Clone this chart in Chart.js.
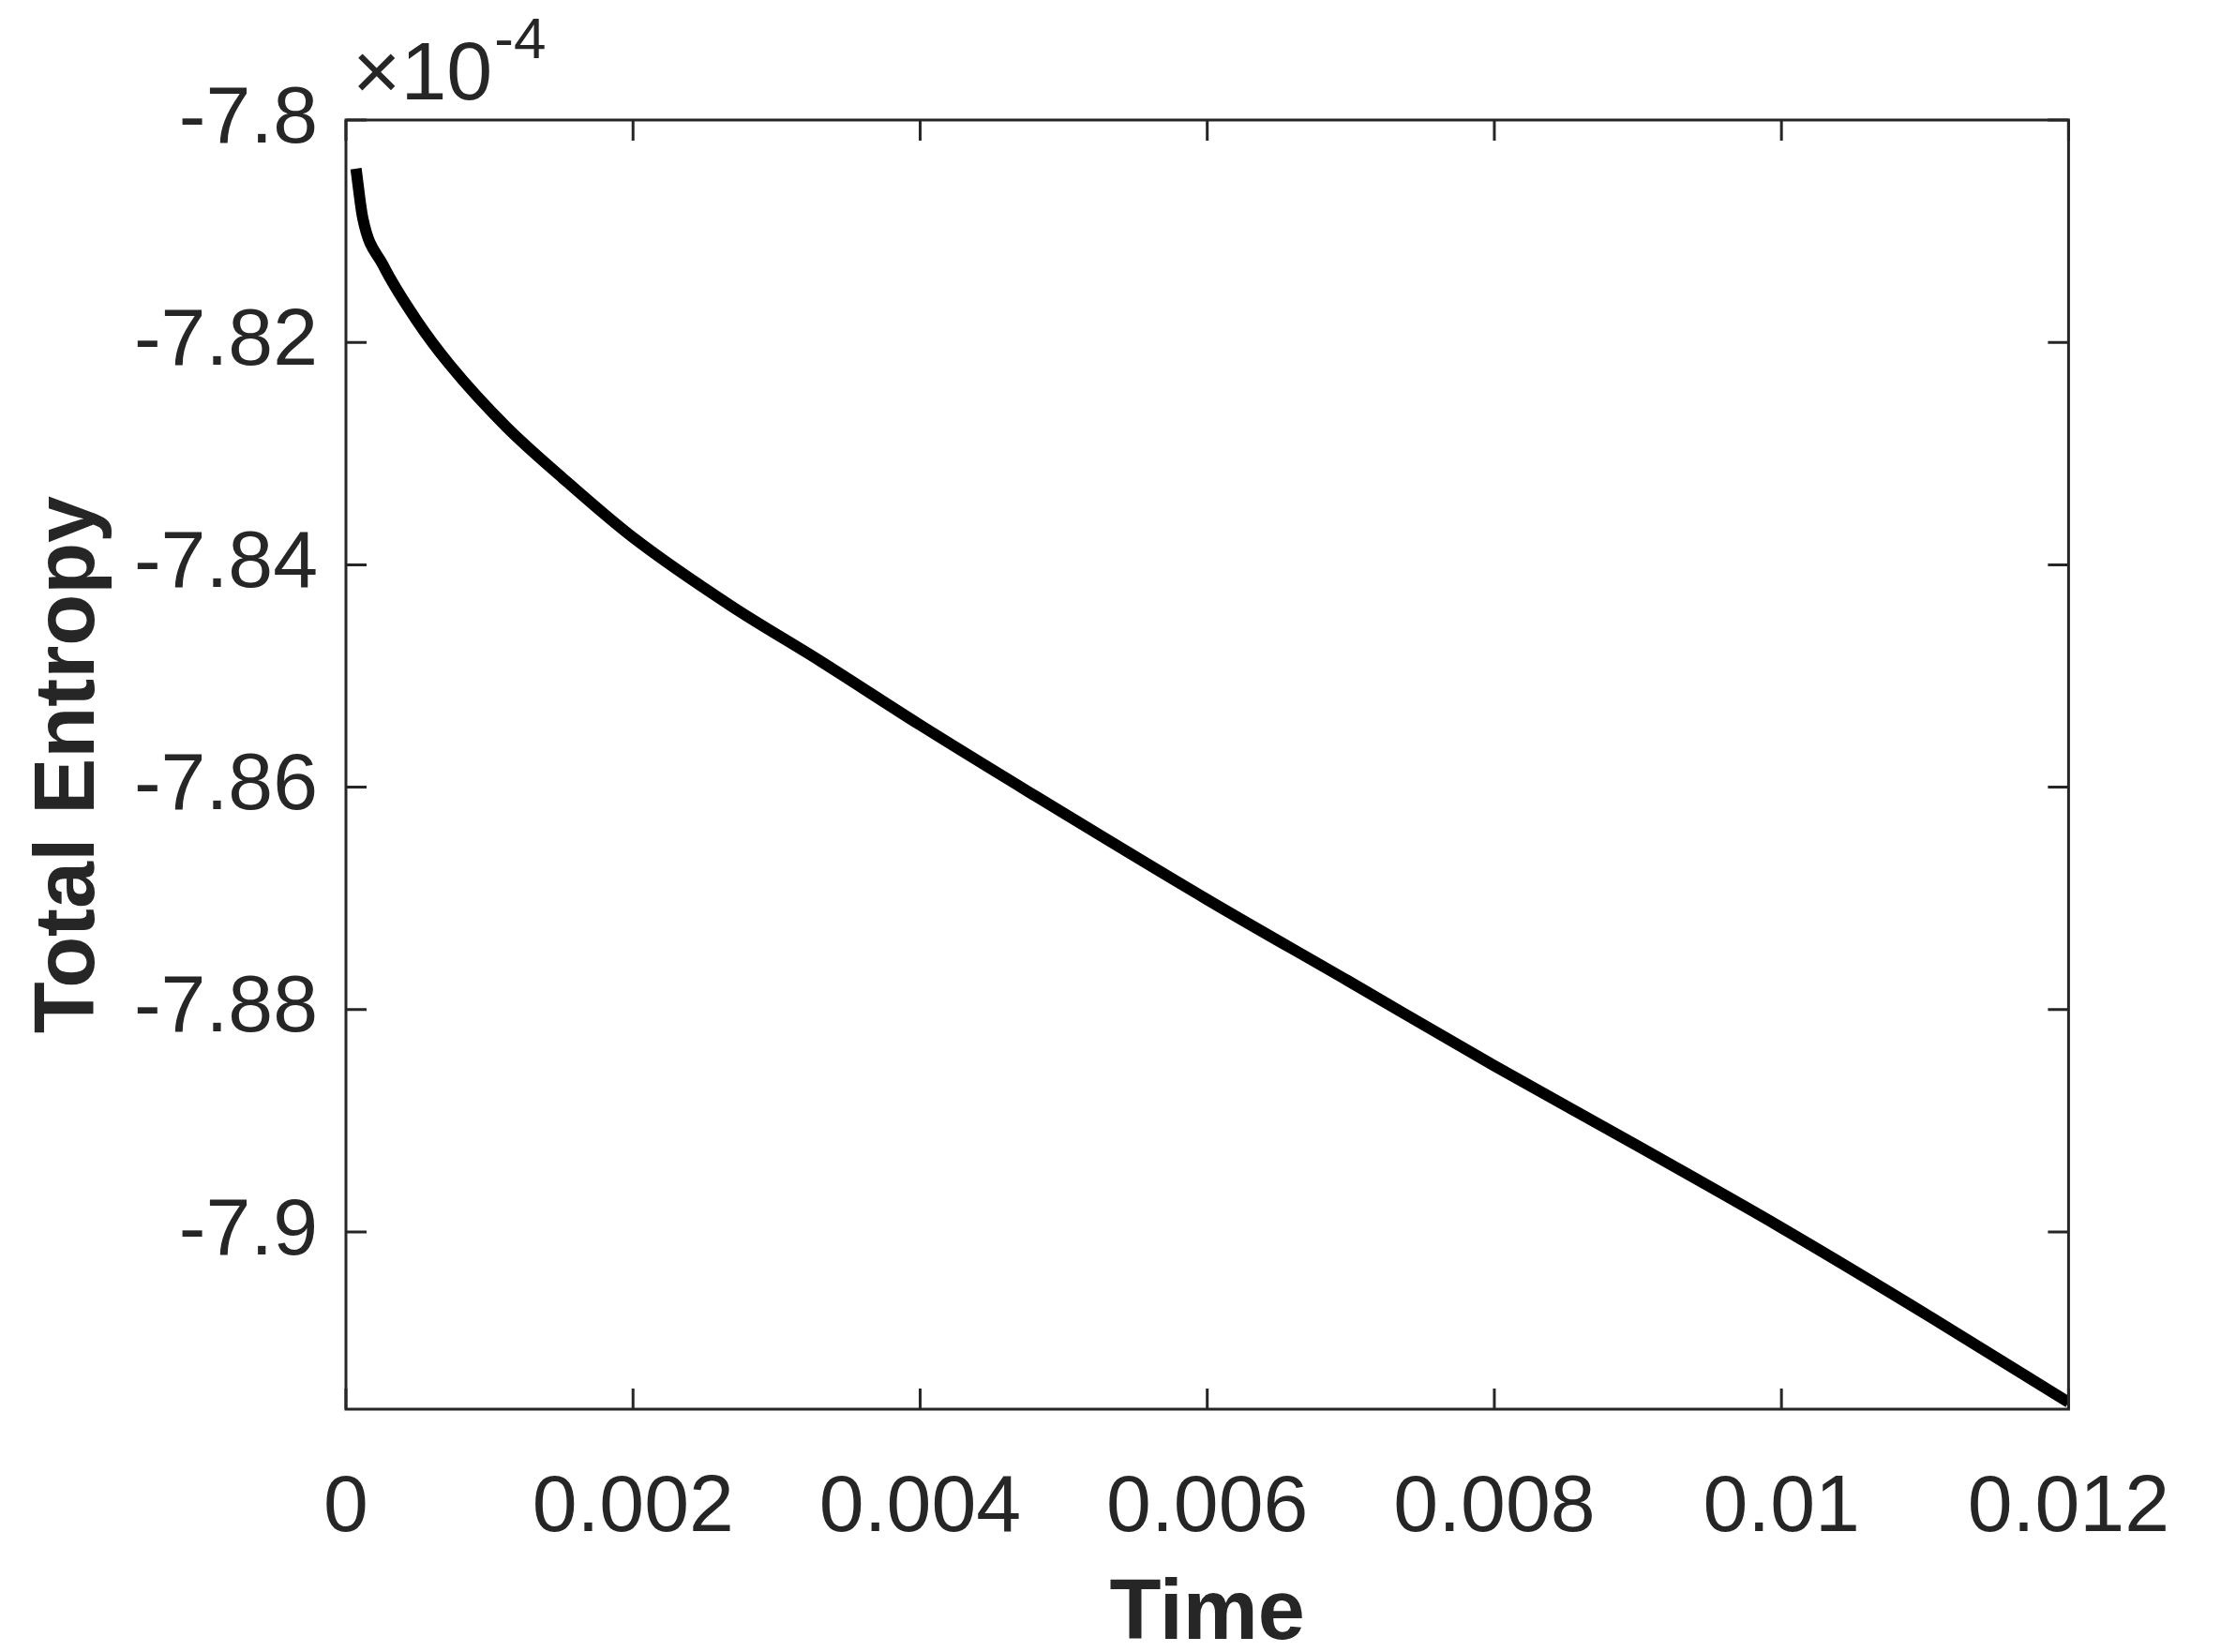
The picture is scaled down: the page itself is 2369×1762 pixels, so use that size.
<!DOCTYPE html>
<html><head><meta charset="utf-8">
<script src="https://cdn.jsdelivr.net/npm/chart.js@4/dist/chart.umd.min.js"></script>
<style>html,body{margin:0;padding:0;background:#fff}#w{width:2369px;height:1762px}</style>
</head><body><div id="w"><canvas id="c"></canvas></div>
<script>
const timeValues = [0.00007,0.000117,0.000258,0.000492,0.000727,0.001117,0.001508,0.002,0.00268,0.003305,0.004,0.00479,0.006,0.006977,0.008,0.009008,0.01,0.01104,0.012];
const entropyValues = [-7.80437,-7.80881,-7.81303,-7.81801,-7.82207,-7.82759,-7.83218,-7.83755,-7.84368,-7.84866,-7.85441,-7.86069,-7.87011,-7.87739,-7.88506,-7.89234,-7.89962,-7.90766,-7.91533];
const xTicks = [0,0.002,0.004,0.006,0.008,0.01,0.012];
const yTicks = [-7.9,-7.88,-7.86,-7.84,-7.82,-7.8];
const xTitle = 'Time', yTitle = 'Total Entropy', exponentLabel = '-4';

const FONT = '"Liberation Sans", Arial, sans-serif';
const TXT = '#262626';
const frame = {
  id:'frame',
  afterDraw(ch){
    const c=ch.ctx, a=ch.chartArea, xs=ch.scales.x, ys=ch.scales.y;
    c.save();
    c.strokeStyle=TXT; c.lineWidth=3;
    c.strokeRect(a.left,a.top,a.right-a.left,a.bottom-a.top);
    const L=22;
    c.beginPath();
    xTicks.forEach(v=>{const p=xs.getPixelForValue(v);
      c.moveTo(p,a.bottom);c.lineTo(p,a.bottom-L);c.moveTo(p,a.top);c.lineTo(p,a.top+L);});
    yTicks.forEach(v=>{const p=ys.getPixelForValue(v);
      c.moveTo(a.left,p);c.lineTo(a.left+L,p);c.moveTo(a.right,p);c.lineTo(a.right-L,p);});
    c.stroke();
    c.fillStyle=TXT;
    c.font='88px '+FONT; c.textBaseline='alphabetic'; c.textAlign='left';
    c.fillText('\u00d710',376,106);
    const w=c.measureText('\u00d710').width;
    c.font='62px '+FONT; c.fillText(exponentLabel,376+w+2,62);
    c.font='bold 90px '+FONT; c.textAlign='center';
    c.fillText(xTitle,(a.left+a.right)/2,1748);
    c.translate(100,(a.top+a.bottom)/2); c.rotate(-Math.PI/2);
    c.fillText(yTitle,0,0);
    c.restore();
  }
};
new Chart(document.getElementById('c'),{
  type:'line',
  data:{datasets:[{data:timeValues.map((t,i)=>({x:t,y:entropyValues[i]})),
    borderColor:'#000',borderWidth:12,pointRadius:0,cubicInterpolationMode:'monotone',fill:false}]},
  options:{
    responsive:true,maintainAspectRatio:false,animation:false,devicePixelRatio:1,
    layout:{padding:{top:128,right:61,left:0,bottom:0}},
    plugins:{legend:{display:false},tooltip:{enabled:false}},
    scales:{
      x:{type:'linear',min:0,max:0.012,
        afterBuildTicks(s){s.ticks=xTicks.map(v=>({value:v}));},
        afterFit(s){s.height=259;},
        grid:{display:false,drawTicks:false},border:{display:false},
        ticks:{color:TXT,font:{size:86,family:FONT},padding:55,maxRotation:0,
          callback:v=>String(Math.round(v*1000)/1000)}},
      y:{type:'linear',min:-7.91594,max:-7.8,
        afterBuildTicks(s){s.ticks=yTicks.map(v=>({value:v}));},
        afterFit(s){s.width=369;},
        grid:{display:false,drawTicks:false},border:{display:false},
        ticks:{color:TXT,font:{size:86,family:FONT},padding:30,
          callback:v=>String(Math.round(v*100)/100)}}
    }
  },
  plugins:[frame]
});
</script></body></html>
